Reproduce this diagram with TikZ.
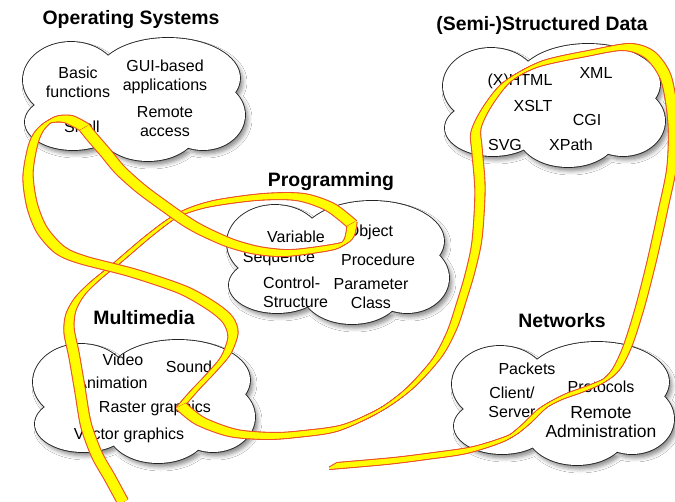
\documentclass[tikz,border=0pt]{standalone}
\usepackage{fontspec}
\newfontfamily\helv{Liberation Sans}
\usetikzlibrary{shadows.blur}

\definecolor{ribbonyellow}{RGB}{255,252,0}
\definecolor{ribbonedge}{RGB}{236,84,40}
\definecolor{cloudline}{RGB}{35,35,35}

% cloud outline: union of overlapping ellipses around the origin
\newcommand\cloudshape{%
  (-62,-20) ellipse [x radius=48, y radius=38]
  (35,-22) ellipse [x radius=72, y radius=40]
  (70,15) ellipse [x radius=42, y radius=35]
  (15,28) ellipse [x radius=50, y radius=33]
  (-60,22) ellipse [x radius=48, y radius=28]
  (0,0) ellipse [x radius=80, y radius=40]}

\newcommand\drawcloud[2]{%
  \begin{scope}[shift={#2}]
    \path[blur shadow={shadow xshift=3pt, shadow yshift=-4pt,
      shadow blur radius=4pt, shadow opacity=45}] \cloudshape;
    \draw[cloudline, line width=1.8pt] \cloudshape;
    \fill[white] \cloudshape;
    \coordinate (#1) at (0,0);
  \end{scope}}

% calligraphic marker stroke: copies of the path shifted along a slanted nib
\newcommand\ribbonpart[1]{%
  \foreach \nb in {-4.5,-4,...,4.5}
    \draw[ribbonedge, line width=3.5pt, line join=round,
      shift={({\nb*0.866pt},{\nb*0.5pt})}]
      plot[smooth, tension=0.5] coordinates {#1};
  \foreach \nb in {-4.5,-4,...,4.5}
    \draw[ribbonyellow, line width=1.3pt, line join=round,
      shift={({\nb*0.866pt},{\nb*0.5pt})}]
      plot[smooth, tension=0.5] coordinates {#1};}

\begin{document}
\begin{tikzpicture}[x=1pt, y=-1pt,
  title/.style={font=\helv\bfseries\fontsize{19.4}{23}\selectfont, anchor=base, inner sep=0pt},
  item/.style={font=\helv\fontsize{16}{19}\selectfont, align=center, inner sep=0pt},
]
\useasboundingbox (0,0) rectangle (675,502);
\fill[white] (0,0) rectangle (675,502);

% clouds
\drawcloud{os}{(133,100)}
\drawcloud{data}{(553,106)}
\drawcloud{prog}{(337,263)}
\drawcloud{multi}{(143,402)}
\drawcloud{net}{(562,404)}

% titles
\node[title] (tos) at (131,25) {Operating Systems};
\node[title] (tdata) at (542,31) {(Semi-)Structured Data};
\node[title] (tprog) at (331,187) {Programming};
\node[title] (tmulti) at (144,325) {Multimedia};
\node[title] (tnet) at (562,328) {Networks};

% Operating Systems
\node[item] (basic) at (78,82.5) {Basic\\functions};
\node[item] (gui) at (165,77) {GUI-based\\applications};
\node[item] (shell) at (82,127) {Shell};
\node[item] (remote) at (165,122) {Remote\\access};

% (Semi-)Structured Data
\node[item] (xhtml) at (520,81) {(X)HTML};
\node[item] (xml) at (596,73) {XML};
\node[item] (xslt) at (533,106) {XSLT};
\node[item] (cgi) at (587,120) {CGI};
\node[item] (svg) at (505,145) {SVG};
\node[item] (xpath) at (571,145) {XPath};

% Programming
\node[item] (variable) at (296,237) {Variable};
\node[item] (object) at (370,232) {Object};
\node[item] (sequence) at (279,259) {Sequence};
\node[item] (procedure) at (378,260) {Procedure};
\node[item, align=left, anchor=west] (control) at (263,292.5) {Control-\\Structure};
\node[item] (parameter) at (371,293.5) {Parameter\\Class};

% Multimedia
\node[item] (video) at (123,360) {Video};
\node[item] (sound) at (189,367) {Sound};
\node[item] (animation) at (112,383) {Animation};
\node[item] (raster) at (155,408) {Raster graphics};
\node[item] (vector) at (129,435) {Vector graphics};

% Networks
\node[item] (packets) at (527,369) {Packets};
\node[item] (client) at (512,402.5) {Client/\\Server};
\node[item] (protocols) at (601,387) {Protocols};
\node[item, font=\helv\fontsize{17.5}{19}\selectfont] (admin) at (601,422.5) {Remote\\Administration};

% the marker stroke, in four pieces split at its sharp turns
\ribbonpart{(123,502) (110,478) (97,455) (86,425) (80,390) (74,355) (69,330)
  (71,312) (80,296) (95,281) (117,263) (150,235) (178,215) (210,204)
  (260,197) (300,197) (330,207) (352,224)}
\ribbonpart{(352,224) (349,238) (338,246) (300,252) (280,253) (255,250)
  (230,243) (205,232) (187,222) (160,203) (140,188) (120,170) (105,152)
  (92,137) (84,127)}
\ribbonpart{(84,127) (68,119) (52,120) (40,130) (33,145) (28,175) (32,205)
  (42,230) (60,250) (83,260) (133,273) (183,290) (213,307) (228,320)
  (233,335) (226,355) (212,372) (195,390) (181,406)}
\ribbonpart{(181,406) (200,421) (233,433) (270,436) (300,434) (340,428)
  (380,410) (410,388) (437,358) (452,330) (462,300) (470,273) (477,240)
  (480,190) (477,150) (476,130) (487,107) (507,82) (540,64) (590,53)
  (627,47) (650,55) (666,78) (673,120) (672,165) (663,210) (652,260)
  (640,307) (628,345) (617,368) (605,380) (585,389) (563,397) (543,408)
  (525,425) (507,438) (470,450) (430,456) (390,461) (333,466)}
\end{tikzpicture}
\end{document}
